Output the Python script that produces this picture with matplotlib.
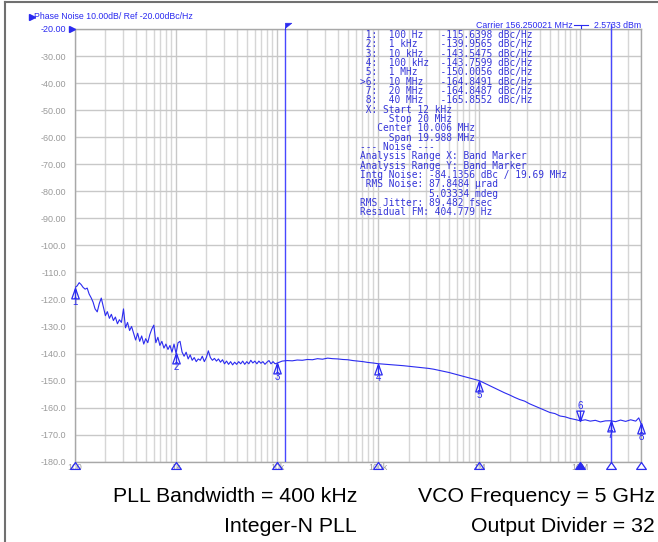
import matplotlib
matplotlib.use("Agg")
import matplotlib.pyplot as plt
from matplotlib.path import Path
from matplotlib.lines import Line2D
import numpy as np

# ---------------- data ----------------
freq_hz = [
    100, 105, 110, 115, 120, 126, 132, 138, 145, 151, 158, 166, 174, 182, 191, 200, 209, 219, 229, 240,
    251, 263, 275, 288, 302, 316, 331, 347, 363, 380, 398, 417, 437, 457, 479, 501, 525, 550, 575, 603,
    631, 661, 692, 724, 759, 794, 832, 871, 912, 955,
    1000, 1047, 1096, 1148, 1202, 1259, 1318, 1380, 1445, 1514, 1585, 1660, 1738, 1820, 1905, 1995, 2089,
    2188, 2291, 2399, 2512, 2630, 2754, 2884, 3020, 3162, 3311, 3467, 3631, 3802, 3981, 4169, 4365, 4571,
    4786, 5012, 5248, 5495, 5754, 6026, 6310, 6607, 6918, 7244, 7586, 7943, 8318, 8710, 9120, 9550,
    10000, 11220, 12590, 14130, 15850, 17780, 19950, 22390, 25120, 28180, 31620, 35480, 39810, 44670,
    50120, 56230, 63100, 70790, 79430, 89130,
    100000, 112200, 125900, 141300, 158500, 177800, 199500, 223900, 251200, 281800, 316200, 354800,
    398100, 446700, 501200, 562300, 631000, 707900, 794300, 891300,
    1.0e6, 1.122e6, 1.259e6, 1.413e6, 1.585e6, 1.778e6, 1.995e6, 2.239e6, 2.512e6, 2.818e6, 3.162e6,
    3.548e6, 3.981e6, 4.467e6, 5.012e6, 5.623e6, 6.310e6, 7.079e6, 7.943e6, 8.913e6,
    1.0e7, 1.122e7, 1.259e7, 1.413e7, 1.585e7, 1.778e7, 2.0e7, 2.239e7, 2.512e7, 2.818e7, 3.162e7,
    3.548e7, 3.8e7, 4.0e7,
]
phase_noise_dbc = [
    -115.6, -115.0, -113.8, -114.5, -115.5, -116.2, -115.8, -118.0, -119.5, -121.0,
    -123.5, -124.6, -121.5, -119.5, -122.8, -126.0, -124.5, -127.0, -125.5, -127.8,
    -126.5, -129.0, -127.5, -128.5, -123.5, -130.5, -128.5, -131.5, -130.0, -132.5,
    -135.0, -132.5, -135.5, -133.5, -136.5, -134.5, -136.0, -133.0, -131.0, -129.5,
    -136.0, -134.0, -137.0, -135.5, -138.0, -136.5, -138.5, -137.0, -139.5, -136.5,
    -139.96, -136.0, -135.5, -139.5, -141.0, -139.5, -142.0, -140.5, -142.5, -141.5,
    -143.0, -142.0, -142.5, -141.0, -143.0, -141.5, -139.0, -141.5, -142.5, -141.8,
    -142.8, -142.0, -143.2, -142.3, -143.8, -142.8, -144.0, -143.0, -144.2, -143.2,
    -144.0, -143.0, -143.8, -142.8, -144.0, -143.0, -143.8, -142.5, -143.5, -142.8,
    -143.8, -142.8, -143.6, -143.0, -144.0, -143.2, -142.6, -143.8, -143.0, -143.8,
    -143.55, -142.8, -142.6, -142.7, -142.4, -142.5, -142.2, -142.3, -141.9, -142.1,
    -141.7, -141.9, -142.0, -142.2, -142.3, -142.6, -142.8, -143.0, -143.3, -143.5,
    -143.76, -143.9, -144.0, -144.2, -144.3, -144.5, -144.7, -144.9, -145.1, -145.3,
    -145.5, -145.8, -146.2, -146.6, -147.0, -147.5, -148.0, -148.5, -149.0, -149.5,
    -150.01, -150.9, -151.8, -152.7, -153.6, -154.5, -155.3, -156.2, -157.0, -157.6,
    -158.6, -159.4, -160.2, -161.0, -161.8, -162.2, -163.1, -163.4, -164.0, -164.4,
    -164.85, -164.5, -165.0, -164.7, -165.3, -164.9, -164.85, -165.2, -164.6, -165.1,
    -164.5, -165.0, -163.8, -165.86,
]

marker_freq = [100, 1e3, 1e4, 1e5, 1e6, 1e7, 2e7, 4e7]
marker_dbc = [-115.6398, -139.9565, -143.5475, -143.7599, -150.0056, -164.8491, -164.8487, -165.8552]
marker_ids = ["1", "2", "3", "4", "5", "6", "7", "8"]
active_marker = "6"

band_start_hz = 12e3
band_stop_hz = 20e6

x_tick_freq = [100, 1e3, 1e4, 1e5, 1e6, 1e7]
x_tick_labels = ["100", "1k", "10k", "100k", "1M", "10M"]
y_ticks = [-20, -30, -40, -50, -60, -70, -80, -90, -100, -110, -120, -130, -140, -150, -160, -170, -180]
y_tick_labels = ["-20.00", "-30.00", "-40.00", "-50.00", "-60.00", "-70.00", "-80.00", "-90.00",
                 "-100.0", "-110.0", "-120.0", "-130.0", "-140.0", "-150.0", "-160.0", "-170.0", "-180.0"]

table_lines = [
    " 1:  100 Hz   -115.6398 dBc/Hz",
    " 2:  1 kHz    -139.9565 dBc/Hz",
    " 3:  10 kHz   -143.5475 dBc/Hz",
    " 4:  100 kHz  -143.7599 dBc/Hz",
    " 5:  1 MHz    -150.0056 dBc/Hz",
    ">6:  10 MHz   -164.8491 dBc/Hz",
    " 7:  20 MHz   -164.8487 dBc/Hz",
    " 8:  40 MHz   -165.8552 dBc/Hz",
    " X: Start 12 kHz",
    "     Stop 20 MHz",
    "   Center 10.006 MHz",
    "     Span 19.988 MHz",
    "--- Noise ---",
    "Analysis Range X: Band Marker",
    "Analysis Range Y: Band Marker",
    "Intg Noise: -84.1356 dBc / 19.69 MHz",
    " RMS Noise: 87.8484 \u00b5rad",
    "            5.03334 mdeg",
    "RMS Jitter: 89.482 fsec",
    "Residual FM: 404.779 Hz",
]

title_text = "Phase Noise 10.00dB/ Ref -20.00dBc/Hz"
carrier_text = "Carrier 156.250021 MHz"
carrier_power = "2.5733 dBm"
footer_left = ["PLL Bandwidth = 400 kHz", "Integer-N PLL"]
footer_right = ["VCO Frequency = 5 GHz", "Output Divider = 32"]

# ---------------- styling ----------------
W, H = 658, 542
BLUE = "#2b2bf0"
TBLUE = "#3535d8"
GRAY_TXT = "#9a9a9a"
SANS = "Liberation Sans"

fig = plt.figure(figsize=(W / 100, H / 100), dpi=100)
fig.patch.set_facecolor("white")

def fx(x):
    return x / W

def fy(y):
    return 1 - y / H

L, R, T, B = 75, 641, 29, 461.7
ax = fig.add_axes([fx(L), fy(B), (R - L) / W, (B - T) / H])
ax.set_xscale("log")
ax.set_xlim(100, 4e7)
ax.set_ylim(-180, -20)

# grid
ax.set_xticks(x_tick_freq)
ax.xaxis.set_minor_locator(matplotlib.ticker.LogLocator(base=10, subs=np.arange(2, 10), numticks=20))
ax.xaxis.set_minor_formatter(matplotlib.ticker.NullFormatter())
ax.set_yticks(y_ticks)
ax.grid(True, which="major", axis="both", color="#c8c8c8", lw=1.0)
ax.grid(True, which="minor", axis="x", color="#d6d6d6", lw=1.0)
ax.set_axisbelow(True)
ax.tick_params(which="both", length=0)
ax.set_xticklabels([])
ax.set_yticklabels(y_tick_labels, fontsize=6.5, fontfamily=SANS, color=GRAY_TXT)
ax.tick_params(axis="y", pad=6.5)
ax.get_yticklabels()[0].set_color(BLUE)
for s in ax.spines.values():
    s.set_color("#a8a8a8")
    s.set_linewidth(1.0)

# x tick labels (small gray)
for f, lab in zip(x_tick_freq, x_tick_labels):
    ax.annotate(lab, xy=(f, -180), xytext=(0, -6), textcoords="offset pixels",
                ha="center", va="center", fontsize=6.3, fontfamily=SANS, color=GRAY_TXT,
                annotation_clip=False, zorder=5)

# band marker lines
ax.axvline(band_start_hz, color="#4848ff", lw=1.0, zorder=3)
ax.plot([band_stop_hz, band_stop_hz], [-180, -18.2], color="#4848ff", lw=1.0, zorder=3, clip_on=False)

# trace
ax.plot(freq_hz, phase_noise_dbc, color=BLUE, lw=0.8, zorder=4)

# marker symbols
up_path = Path([(0, 0), (-0.36, -1), (0.36, -1), (0, 0), (0, 0), (0, -1)],
               [Path.MOVETO, Path.LINETO, Path.LINETO, Path.CLOSEPOLY, Path.MOVETO, Path.LINETO])
down_path = Path([(0, 0), (-0.36, 1), (0.36, 1), (0, 0), (0, 0), (0, 1)],
                 [Path.MOVETO, Path.LINETO, Path.LINETO, Path.CLOSEPOLY, Path.MOVETO, Path.LINETO])
axis_tri = Path([(0, 0), (-0.7, -1), (0.7, -1), (0, 0)],
                [Path.MOVETO, Path.LINETO, Path.LINETO, Path.CLOSEPOLY])

for f, v, mid in zip(marker_freq, marker_dbc, marker_ids):
    if mid == active_marker:
        ax.plot([f], [v], marker=down_path, ms=15, mfc="none", mec=BLUE, mew=0.9,
                zorder=5, clip_on=False)
        ax.annotate(mid, xy=(f, v), xytext=(0, 15), textcoords="offset pixels",
                    ha="center", va="center", fontsize=7, fontfamily=SANS, color=BLUE,
                    annotation_clip=False)
    else:
        ax.plot([f], [v], marker=up_path, ms=15, mfc="none", mec=BLUE, mew=0.9,
                zorder=5, clip_on=False)
        ax.annotate(mid, xy=(f, v), xytext=(0, -14), textcoords="offset pixels",
                    ha="center", va="center", fontsize=7, fontfamily=SANS, color=BLUE,
                    annotation_clip=False)
    filled = BLUE if mid == active_marker else "none"
    ax.plot([f], [-180], marker=axis_tri, ms=10, mfc=filled, mec=BLUE, mew=0.9,
            zorder=6, clip_on=False)

# flag at band start
flag = Path([(0, 0), (0, 1), (1, 1), (0, 0.2), (0, 0)],
            [Path.MOVETO, Path.LINETO, Path.LINETO, Path.LINETO, Path.CLOSEPOLY])
ax.plot([band_start_hz], [-20], marker=flag, ms=9, mfc=BLUE, mec=BLUE, mew=0.5,
        zorder=7, clip_on=False)

# ref level triangle next to -20 label
fig.add_artist(Line2D([fx(72)], [fy(29)], marker=">", ms=4.5, color=BLUE, mec=BLUE))

# title
fig.add_artist(Line2D([fx(31.5)], [fy(16.5)], marker=">", ms=4.5, color=BLUE, mec=BLUE))
fig.text(fx(33.5), fy(16.5), title_text, fontsize=6.3, fontfamily=SANS, color=BLUE,
         ha="left", va="center")

# carrier text
fig.text(fx(573), fy(25.5), carrier_text, fontsize=6.3, fontfamily=SANS, color=BLUE,
         ha="right", va="center")
fig.add_artist(Line2D([fx(574), fx(588)], [fy(24.5), fy(24.5)], color=BLUE, lw=0.8))
fig.add_artist(Line2D([fx(581), fx(581)], [fy(24.5), fy(28)], color=BLUE, lw=0.8))
fig.text(fx(641), fy(25.5), carrier_power, fontsize=6.3, fontfamily=SANS, color=BLUE,
         ha="right", va="center")

# marker table
for i, line in enumerate(table_lines):
    fig.text(fx(360), fy(35 + i * 9.33), line, fontsize=6.85, fontfamily="DejaVu Sans Mono",
             color=TBLUE, ha="left", va="center")

# footer
for i, (lt, rt) in enumerate(zip(footer_left, footer_right)):
    y = 496 + i * 31
    fig.text(fx(357), fy(y), lt, fontsize=15.3, fontfamily=SANS, color="black", ha="right", va="center")
    fig.text(fx(655), fy(y), rt, fontsize=15.3, fontfamily=SANS, color="black", ha="right", va="center")

# outer frame (left and top edges)
fig.add_artist(Line2D([fx(4.5), fx(4.5)], [fy(2), fy(542)], color="#707070", lw=1.5))
fig.add_artist(Line2D([fx(4.5), fx(658)], [fy(2), fy(2)], color="#707070", lw=1.5))

fig.savefig("out.png", dpi=100, facecolor="white")
